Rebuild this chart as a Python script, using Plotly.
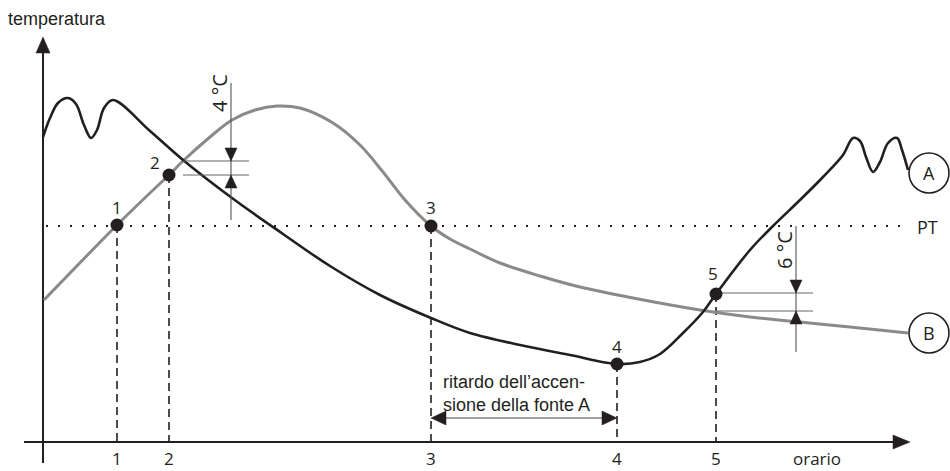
import plotly.graph_objects as go

# ---------------- data (diagram units: x = time, y = screen-like temperature scale, inverted) -------------
curve_a_x = [43, 50, 58, 68, 76, 84, 91, 97, 104, 113, 150, 183, 232, 283, 330, 380, 431, 470, 520, 570, 617,
             640, 660, 683, 703, 716, 750, 773, 800, 823, 843, 853, 860, 866, 873, 880, 888, 897, 902, 908]
curve_a_y = [137, 118, 103, 98, 104, 125, 138, 130, 108, 100, 131, 160, 198, 234, 266, 295, 318, 333, 345, 355, 364,
             362, 354, 333, 312, 294, 250, 226, 200, 177, 155, 138, 141, 157, 172, 162, 143, 138, 150, 170]

curve_b_x = [44, 117, 150, 169, 183, 210, 232, 255, 277, 300, 333, 360, 383, 405, 431, 450, 470, 500, 540,
             580, 633, 700, 750, 800, 850, 908]
curve_b_y = [300, 225, 193, 175, 161, 137, 120, 110, 106, 108, 123, 145, 172, 200, 226, 239, 249, 263, 276,
             287, 298, 310, 317, 322, 327, 333]

point_labels = ["1", "2", "3", "4", "5"]
points_x = [117, 169, 431, 617, 716]
points_y = [225, 175, 226, 364, 294]
label_dx = [0, -14, 0, 0, -3]
label_dy = [-18, -13, -19, -18, -21]

pt_level = 226
x_axis_level = 442
y_axis_pos = 43
tick_label_bottom = 470.5

# delta annotations
delta_4 = dict(x=231, top=83, bottom=220, y_hi=161, y_lo=175, x0=183, x1=249, text="4 °C", tx=219, ty=93)
delta_6 = dict(x=796, top=226, bottom=352, y_hi=293, y_lo=311, x0=717, x1=813, text="6 °C", tx=784, ty=250)

delay_y = 418
delay_text = ["ritardo dell\u2019accen-", "sione della fonte A"]

BLACK = "#231f20"
GREY = "#8a8a8a"

fig = go.Figure()


def line(xs, ys, color=BLACK, width=1.0, dash="solid", shape="linear"):
    fig.add_trace(go.Scatter(x=xs, y=ys, mode="lines",
                             line=dict(color=color, width=width, dash=dash, shape=shape),
                             hoverinfo="skip", showlegend=False))


def tri(xs, ys, color=BLACK):
    fig.add_trace(go.Scatter(x=xs + [xs[0]], y=ys + [ys[0]], mode="lines", fill="toself",
                             fillcolor=color, line=dict(color=color, width=0.5),
                             hoverinfo="skip", showlegend=False))


# axes
line([y_axis_pos, y_axis_pos], [463, 50], width=2)
tri([y_axis_pos - 7, y_axis_pos + 7, y_axis_pos], [53, 53, 37])
line([24, 896], [x_axis_level, x_axis_level], width=2)
tri([893, 893, 910], [x_axis_level - 7, x_axis_level + 7, x_axis_level])

# PT dotted line
line([46, 905], [pt_level, pt_level], width=2, dash="2px,10px")

# dashed verticals
for px, py in zip(points_x, points_y):
    line([px, px], [py, x_axis_level], width=1.6, dash="8px,5px")

# curves
line(curve_b_x, curve_b_y, color=GREY, width=3, shape="spline")
line(curve_a_x, curve_a_y, color=BLACK, width=2.6, shape="spline")

# delta markers
for d in (delta_4, delta_6):
    line([d["x0"], d["x1"]], [d["y_hi"], d["y_hi"]], color="#666666", width=1.1)
    line([d["x0"], d["x1"]], [d["y_lo"], d["y_lo"]], color="#666666", width=1.1)
    line([d["x"], d["x"]], [d["top"], d["bottom"]], color="#555555", width=1.1)
    tri([d["x"] - 6, d["x"] + 6, d["x"]], [d["y_hi"] - 13, d["y_hi"] - 13, d["y_hi"]])
    tri([d["x"] - 6, d["x"] + 6, d["x"]], [d["y_lo"] + 13, d["y_lo"] + 13, d["y_lo"]])
    fig.add_annotation(x=d["tx"], y=d["ty"], text=d["text"], showarrow=False, textangle=-90,
                       font=dict(family="Open Sans", size=20, color=BLACK), xanchor="center", yanchor="middle")

# delay double arrow
line([points_x[2] + 12, points_x[3] - 12], [delay_y, delay_y], color="#444444", width=1.1)
tri([points_x[2], points_x[2] + 15, points_x[2] + 15], [delay_y, delay_y - 7, delay_y + 7])
tri([points_x[3], points_x[3] - 15, points_x[3] - 15], [delay_y, delay_y - 7, delay_y + 7])
for i, t in enumerate(delay_text):
    fig.add_annotation(x=441, y=382 + 23 * i, text=t, showarrow=False, xanchor="left", yanchor="middle",
                       font=dict(family="Liberation Sans", size=18, color=BLACK))

# points
fig.add_trace(go.Scatter(x=points_x, y=points_y, mode="markers",
                         marker=dict(size=13, color=BLACK), hoverinfo="skip", showlegend=False))
for lab, px, py, dx, dy in zip(point_labels, points_x, points_y, label_dx, label_dy):
    fig.add_annotation(x=px + dx, y=py + dy, text=lab, showarrow=False, xanchor="center", yanchor="middle",
                       font=dict(family="Open Sans", size=17, color=BLACK))
    fig.add_annotation(x=px, y=tick_label_bottom, text=lab, showarrow=False, xanchor="center", yanchor="bottom",
                       borderpad=0, font=dict(family="Open Sans", size=17, color=BLACK))

# circles A / B
circle_labels = ["A", "B"]
circle_y = [173, 333]
for lab, cy in zip(circle_labels, circle_y):
    fig.add_shape(type="circle", x0=909, x1=949, y0=cy - 20, y1=cy + 20,
                  line=dict(color=BLACK, width=1.6), fillcolor="white")
    fig.add_annotation(x=929, y=cy, text=lab, showarrow=False, xanchor="center", yanchor="middle",
                       font=dict(family="Open Sans", size=18, color=BLACK))

# other texts
fig.add_annotation(x=927, y=227, text="PT", showarrow=False, xanchor="center", yanchor="middle",
                   font=dict(family="Open Sans", size=18, color=BLACK))
fig.add_annotation(x=817, y=tick_label_bottom, text="orario", showarrow=False, xanchor="center", yanchor="bottom",
                   borderpad=0, font=dict(family="Open Sans", size=17, color=BLACK))
fig.add_annotation(x=6, y=19, text="temperatura", showarrow=False, xanchor="left", yanchor="middle",
                   font=dict(family="Liberation Sans", size=18, color=BLACK))

fig.update_layout(
    width=950, height=471, margin=dict(l=0, r=0, t=0, b=0),
    paper_bgcolor="white", plot_bgcolor="white",
    xaxis=dict(range=[0, 950], visible=False, fixedrange=True),
    yaxis=dict(range=[471, 0], visible=False, fixedrange=True),
    showlegend=False,
)

fig.write_html("out.html", config={"displayModeBar": False},
               post_script="document.body.style.margin='0';document.body.style.overflow='hidden';")
